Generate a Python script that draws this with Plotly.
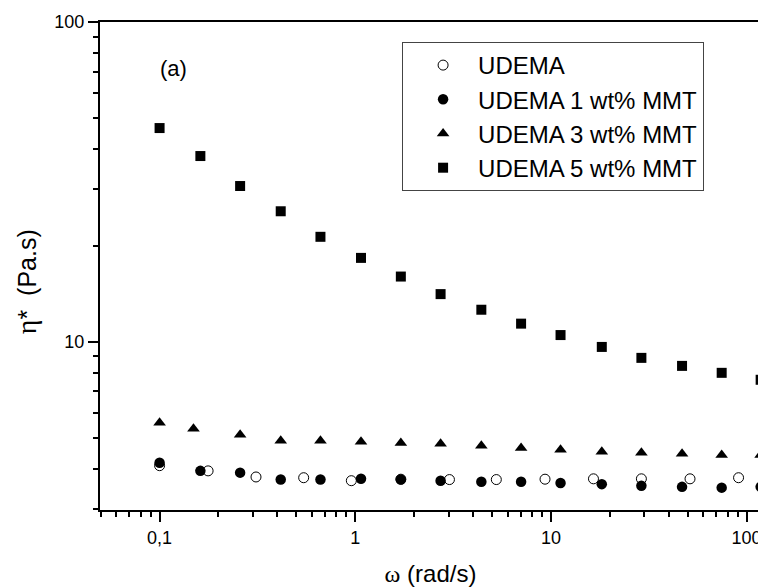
import numpy as np
import plotly.graph_objects as go

# ---- data ----
x_udema = [0.1, 0.177, 0.311, 0.545, 0.955, 1.71, 3.03, 5.26, 9.33, 16.5, 29.0, 51.4, 91.0]
y_udema = [4.10, 3.95, 3.78, 3.76, 3.68, 3.72, 3.71, 3.71, 3.72, 3.73, 3.73, 3.73, 3.76]

x_mmt1 = [0.1, 0.1616, 0.258, 0.416, 0.664, 1.07, 1.71, 2.73, 4.41, 7.04, 11.2, 18.2, 29.0, 46.8, 74.6, 118]
y_mmt1 = [4.19, 3.95, 3.90, 3.71, 3.71, 3.73, 3.71, 3.68, 3.65, 3.65, 3.62, 3.59, 3.55, 3.52, 3.50, 3.52]

x_mmt3 = [0.1, 0.149, 0.258, 0.416, 0.664, 1.07, 1.71, 2.73, 4.41, 7.04, 11.2, 18.2, 29.0, 46.8, 74.6, 118]
y_mmt3 = [5.58, 5.35, 5.12, 4.91, 4.91, 4.87, 4.83, 4.80, 4.73, 4.66, 4.60, 4.53, 4.50, 4.47, 4.43, 4.43]

x_mmt5 = [0.1, 0.1616, 0.258, 0.416, 0.664, 1.07, 1.71, 2.73, 4.41, 7.04, 11.2, 18.2, 29.0, 46.8, 74.6, 118]
y_mmt5 = [46.6, 38.1, 30.7, 25.6, 21.3, 18.3, 16.0, 14.1, 12.6, 11.4, 10.5, 9.64, 8.91, 8.41, 8.0, 7.61]

names = ["UDEMA", "UDEMA 1 wt% MMT", "UDEMA 3 wt% MMT", "UDEMA 5 wt% MMT"]

x_tickvals = [0.1, 1, 10, 100]
x_ticktext = ["0,1", "1", "10", "100"]
y_tickvals = [10, 100]
y_ticktext = ["10", "100"]

x_minor = [m * d for d in [0.01, 0.1, 1, 10] for m in range(2, 10) if 0.049 < m * d < 120]
y_minor = [m * d for d in [1, 10] for m in range(2, 10) if 2.9 < m * d < 100]

fig = go.Figure()
fig.add_trace(go.Scatter(x=x_udema, y=y_udema, mode="markers", name=names[0],
                         marker=dict(symbol="circle-open", size=10, color="black",
                                     line=dict(width=1, color="black"))))
fig.add_trace(go.Scatter(x=x_mmt1, y=y_mmt1, mode="markers", name=names[1],
                         marker=dict(symbol="circle", size=10.5, color="black")))
fig.add_trace(go.Scatter(x=x_mmt3, y=y_mmt3, mode="markers", name=names[2],
                         marker=dict(symbol="triangle-up", size=11, color="black")))
fig.add_trace(go.Scatter(x=x_mmt5, y=y_mmt5, mode="markers", name=names[3],
                         marker=dict(symbol="square", size=10, color="black")))

axis_common = dict(showline=True, linecolor="black", linewidth=2, mirror=True,
                   ticks="outside", ticklen=10, tickwidth=2, tickcolor="black",
                   showgrid=False, zeroline=False,
                   tickfont=dict(family="Liberation Sans, Arial", size=18, color="black"))

fig.update_xaxes(type="log", range=[np.log10(0.0496), np.log10(118.5)],
                 tickmode="array", tickvals=x_tickvals, ticktext=x_ticktext,
                 minor=dict(tickmode="array", tickvals=x_minor, ticks="outside",
                            ticklen=5, tickwidth=2, tickcolor="black", showgrid=False),
                 title=dict(text="<span style='font-family:Liberation Serif'>ω</span> (rad/s)",
                            font=dict(family="Liberation Sans, Arial", size=24, color="black"),
                            standoff=19),
                 **axis_common)
fig.update_yaxes(type="log", range=[np.log10(2.98), 2],
                 tickmode="array", tickvals=y_tickvals, ticktext=y_ticktext,
                 minor=dict(tickmode="array", tickvals=y_minor, ticks="outside",
                            ticklen=5, tickwidth=2, tickcolor="black", showgrid=False),
                 **axis_common)

# y-axis title (placed as rotated text, centred where the reference has it)
fig.add_annotation(text="<span style='font-family:Liberation Serif;font-size:28px'>η</span>*  (Pa.s)",
                   xref="paper", yref="paper", x=(26 - 100) / 663, y=(510 - 282) / 488,
                   xanchor="center", yanchor="middle", textangle=-90, showarrow=False,
                   font=dict(family="Liberation Sans, Arial", size=25, color="black"))

fig.add_annotation(text="(a)", xref="paper", yref="paper", x=(158 - 100) / 663, y=(510 - 68) / 488,
                   xanchor="left", yanchor="middle", showarrow=False,
                   font=dict(family="Liberation Sans, Arial", size=22, color="black"))

# the page body has an 8px margin, so the figure is sized and padded to compensate
fig.update_layout(
    width=758, height=579,
    margin=dict(l=92, r=3, t=14, b=77),
    paper_bgcolor="white", plot_bgcolor="white",
    showlegend=True,
    legend=dict(x=(403 - 100) / 663, y=(488 - 20) / 488, xanchor="left", yanchor="top",
                bgcolor="white", bordercolor="#444", borderwidth=1,
                font=dict(family="Liberation Sans, Arial", size=24, color="black"),
                itemwidth=60, indentation=5),
)

fig.write_html("out.html")
